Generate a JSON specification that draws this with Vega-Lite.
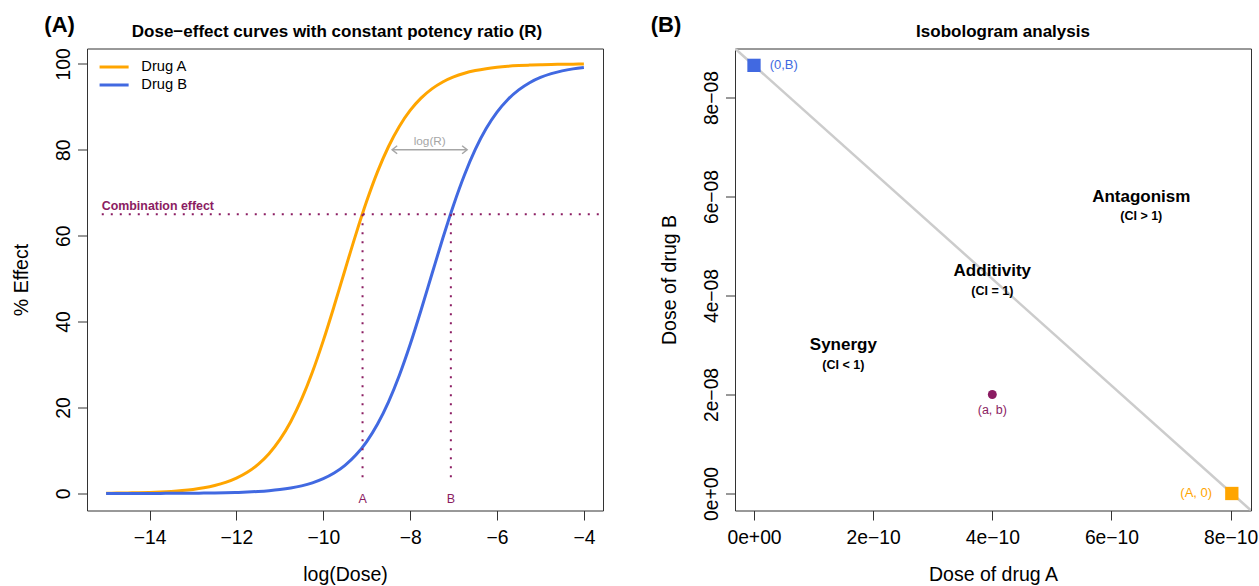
{
  "$schema": "https://vega.github.io/schema/vega-lite/v6.json",
  "background": "white",
  "padding": {"left": 10, "top": 13.5, "right": 0, "bottom": 0},
  "bounds": "flush",
  "spacing": 132,
  "resolve": {"scale": {"color": "independent"}, "legend": {"color": "independent"}},
  "config": {
    "font": "Liberation Sans",
    "view": {"stroke": "#333", "strokeWidth": 1},
    "axis": {"grid": false, "domain": false, "ticks": true, "tickColor": "#333", "tickSize": 9.5, "tickWidth": 1,
      "labelColor": "#000", "titleColor": "#000", "labelFontSize": 19.3, "titleFontSize": 19.5, "titleFontWeight": "normal",
      "labelFont": "Liberation Sans", "titleFont": "Liberation Sans", "labelFlush": false, "labelOverlap": false},
    "axisX": {"labelPadding": 8.5, "labelBaseline": "top", "labelAlign": "center", "titleBaseline": "alphabetic", "titleY": 70.3},
    "axisY": {"labelAngle": -90, "labelAlign": "center", "labelBaseline": "alphabetic", "labelPadding": 8,
      "titleAngle": -90, "titleBaseline": "alphabetic", "titleX": -60, "titleAlign": "center"},
    "title": {"fontSize": 17, "fontWeight": "bold", "font": "Liberation Sans", "color": "#000", "frame": "group", "anchor": "middle", "baseline": "alphabetic", "offset": -26.7}
  },
  "datasets": {
    "curves": [
      {"drug":"Drug A","logdose":-15,"effect":0.065},{"drug":"Drug A","logdose":-14.75,"effect":0.091},{"drug":"Drug A","logdose":-14.5,"effect":0.127},{"drug":"Drug A","logdose":-14.25,"effect":0.178},{"drug":"Drug A","logdose":-14,"effect":0.249},{"drug":"Drug A","logdose":-13.75,"effect":0.349},{"drug":"Drug A","logdose":-13.5,"effect":0.487},{"drug":"Drug A","logdose":-13.25,"effect":0.682},{"drug":"Drug A","logdose":-13,"effect":0.952},{"drug":"Drug A","logdose":-12.75,"effect":1.33},{"drug":"Drug A","logdose":-12.5,"effect":1.86},{"drug":"Drug A","logdose":-12.25,"effect":2.58},{"drug":"Drug A","logdose":-12,"effect":3.58},{"drug":"Drug A","logdose":-11.75,"effect":4.94},{"drug":"Drug A","logdose":-11.5,"effect":6.79},{"drug":"Drug A","logdose":-11.25,"effect":9.27},{"drug":"Drug A","logdose":-11,"effect":12.52},{"drug":"Drug A","logdose":-10.75,"effect":16.71},{"drug":"Drug A","logdose":-10.5,"effect":21.94},{"drug":"Drug A","logdose":-10.25,"effect":28.26},{"drug":"Drug A","logdose":-10,"effect":35.57},{"drug":"Drug A","logdose":-9.75,"effect":43.62},{"drug":"Drug A","logdose":-9.5,"effect":52.02},{"drug":"Drug A","logdose":-9.25,"effect":60.31},{"drug":"Drug A","logdose":-9,"effect":68.05},{"drug":"Drug A","logdose":-8.75,"effect":74.91},{"drug":"Drug A","logdose":-8.5,"effect":80.7},{"drug":"Drug A","logdose":-8.25,"effect":85.43},{"drug":"Drug A","logdose":-8,"effect":89.15},{"drug":"Drug A","logdose":-7.75,"effect":92.01},{"drug":"Drug A","logdose":-7.5,"effect":94.17},{"drug":"Drug A","logdose":-7.25,"effect":95.77},{"drug":"Drug A","logdose":-7,"effect":96.94},{"drug":"Drug A","logdose":-6.75,"effect":97.8},{"drug":"Drug A","logdose":-6.5,"effect":98.42},{"drug":"Drug A","logdose":-6.25,"effect":98.87},{"drug":"Drug A","logdose":-6,"effect":99.19},{"drug":"Drug A","logdose":-5.75,"effect":99.42},{"drug":"Drug A","logdose":-5.5,"effect":99.58},{"drug":"Drug A","logdose":-5.25,"effect":99.7},{"drug":"Drug A","logdose":-5,"effect":99.79},{"drug":"Drug A","logdose":-4.75,"effect":99.85},{"drug":"Drug A","logdose":-4.5,"effect":99.89},{"drug":"Drug A","logdose":-4.25,"effect":99.92},{"drug":"Drug A","logdose":-4,"effect":99.95},
      {"drug":"Drug B","logdose":-15,"effect":0.004},{"drug":"Drug B","logdose":-14.75,"effect":0.006},{"drug":"Drug B","logdose":-14.5,"effect":0.008},{"drug":"Drug B","logdose":-14.25,"effect":0.012},{"drug":"Drug B","logdose":-14,"effect":0.016},{"drug":"Drug B","logdose":-13.75,"effect":0.023},{"drug":"Drug B","logdose":-13.5,"effect":0.032},{"drug":"Drug B","logdose":-13.25,"effect":0.044},{"drug":"Drug B","logdose":-13,"effect":0.062},{"drug":"Drug B","logdose":-12.75,"effect":0.087},{"drug":"Drug B","logdose":-12.5,"effect":0.122},{"drug":"Drug B","logdose":-12.25,"effect":0.171},{"drug":"Drug B","logdose":-12,"effect":0.239},{"drug":"Drug B","logdose":-11.75,"effect":0.335},{"drug":"Drug B","logdose":-11.5,"effect":0.468},{"drug":"Drug B","logdose":-11.25,"effect":0.655},{"drug":"Drug B","logdose":-11,"effect":0.915},{"drug":"Drug B","logdose":-10.75,"effect":1.28},{"drug":"Drug B","logdose":-10.5,"effect":1.78},{"drug":"Drug B","logdose":-10.25,"effect":2.48},{"drug":"Drug B","logdose":-10,"effect":3.44},{"drug":"Drug B","logdose":-9.75,"effect":4.75},{"drug":"Drug B","logdose":-9.5,"effect":6.54},{"drug":"Drug B","logdose":-9.25,"effect":8.93},{"drug":"Drug B","logdose":-9,"effect":12.08},{"drug":"Drug B","logdose":-8.75,"effect":16.15},{"drug":"Drug B","logdose":-8.5,"effect":21.26},{"drug":"Drug B","logdose":-8.25,"effect":27.45},{"drug":"Drug B","logdose":-8,"effect":34.65},{"drug":"Drug B","logdose":-7.75,"effect":42.63},{"drug":"Drug B","logdose":-7.5,"effect":51.01},{"drug":"Drug B","logdose":-7.25,"effect":59.34},{"drug":"Drug B","logdose":-7,"effect":67.16},{"drug":"Drug B","logdose":-6.75,"effect":74.13},{"drug":"Drug B","logdose":-6.5,"effect":80.07},{"drug":"Drug B","logdose":-6.25,"effect":84.92},{"drug":"Drug B","logdose":-6,"effect":88.75},{"drug":"Drug B","logdose":-5.75,"effect":91.7},{"drug":"Drug B","logdose":-5.5,"effect":93.93},{"drug":"Drug B","logdose":-5.25,"effect":95.6},{"drug":"Drug B","logdose":-5,"effect":96.82},{"drug":"Drug B","logdose":-4.75,"effect":97.71},{"drug":"Drug B","logdose":-4.5,"effect":98.35},{"drug":"Drug B","logdose":-4.25,"effect":98.82},{"drug":"Drug B","logdose":-4,"effect":99.16}
    ],
    "combo": [{"logdose": -15.1, "logdose_end": -3.56, "effect": 65, "label": "Combination effect"}],
    "equi": [{"drug": "A", "logdose": -9.096, "effect": 65, "effect_end": 2.8}, {"drug": "B", "logdose": -7.063, "effect": 65, "effect_end": 2.8}],
    "arrow": [{"from": -8.414, "to": -6.689, "mid": -7.55, "effect": 80, "label": "log(R)"}],
    "panelA": [{"logdose": -16.07, "effect": 107.3, "label": "(A)"}],
    "isobole": [{"doseA": -3.189e-11, "doseB": 8.9906e-8}, {"doseA": 8.342e-10, "doseB": -3.437e-9}],
    "single": [{"drug": "Drug B", "doseA": 0, "doseB": 8.65e-8, "label": "(0,B)"}, {"drug": "Drug A", "doseA": 8.02e-10, "doseB": 0, "label": "(A, 0)"}],
    "combi": [{"doseA": 4e-10, "doseB": 2e-8, "label": "(a, b)"}],
    "regions": [
      {"doseA": 6.5e-10, "doseB": 6e-8, "doseB_ci": 5.6e-8, "name": "Antagonism", "ci": "(CI > 1)"},
      {"doseA": 4e-10, "doseB": 4.5e-8, "doseB_ci": 4.1e-8, "name": "Additivity", "ci": "(CI = 1)"},
      {"doseA": 1.5e-10, "doseB": 3e-8, "doseB_ci": 2.6e-8, "name": "Synergy", "ci": "(CI < 1)"}
    ],
    "panelB": [{"doseA": -1.477e-10, "doseB": 9.315e-8, "label": "(B)"}]
  },
  "hconcat": [
    {
      "width": 516,
      "height": 462,
      "title": {"text": "Dose−effect curves with constant potency ratio (R)", "dx": -8},
      "layer": [
        {
          "data": {"name": "curves"},
          "mark": {"type": "line", "strokeWidth": 3, "interpolate": "monotone", "clip": true},
          "encoding": {
            "x": {"field": "logdose", "type": "quantitative", "scale": {"domain": [-15.44, -3.56], "nice": false, "zero": false},
              "axis": {"values": [-14, -12, -10, -8, -6, -4], "title": "log(Dose)", "labelExpr": "replace(format(datum.value, 'd'), '-', '−')"}},
            "y": {"field": "effect", "type": "quantitative", "scale": {"domain": [-3.96, 103.56], "nice": false, "zero": false},
              "axis": {"values": [0, 20, 40, 60, 80, 100], "title": "% Effect"}},
            "color": {"field": "drug", "type": "nominal", "scale": {"domain": ["Drug A", "Drug B"], "range": ["#FFA500", "#4169E1"]},
              "legend": {"title": null, "orient": "none", "legendX": 19.6, "legendY": 11, "symbolType": "M-2.5,0H2.5", "symbolSize": 135,
                "symbolStrokeWidth": 3, "symbolFillColor": "transparent", "labelFontSize": 14.7, "labelOffset": 19.7, "rowPadding": 2, "padding": 0,
                "labelFont": "Liberation Sans", "labelColor": "#000"}}
          }
        },
        {
          "data": {"name": "combo"},
          "mark": {"type": "rule", "strokeDash": [2, 7], "strokeWidth": 2, "color": "#8B1C62"},
          "encoding": {
            "x": {"field": "logdose", "type": "quantitative"},
            "x2": {"field": "logdose_end"},
            "y": {"field": "effect", "type": "quantitative"}
          }
        },
        {
          "data": {"name": "combo"},
          "mark": {"type": "text", "align": "left", "baseline": "alphabetic", "dy": -4, "fontSize": 12.4, "fontWeight": "bold", "color": "#8B1C62"},
          "encoding": {
            "x": {"field": "logdose", "type": "quantitative"},
            "y": {"field": "effect", "type": "quantitative"},
            "text": {"field": "label"}
          }
        },
        {
          "data": {"name": "equi"},
          "mark": {"type": "rule", "strokeDash": [2, 7], "strokeWidth": 2, "color": "#8B1C62"},
          "encoding": {
            "x": {"field": "logdose", "type": "quantitative"},
            "y": {"field": "effect", "type": "quantitative"},
            "y2": {"field": "effect_end"}
          }
        },
        {
          "data": {"name": "equi"},
          "mark": {"type": "text", "align": "center", "baseline": "middle", "dy": 5.8, "fontSize": 12.5, "color": "#8B1C62"},
          "encoding": {
            "x": {"field": "logdose", "type": "quantitative"},
            "y": {"datum": 0, "type": "quantitative"},
            "text": {"field": "drug"}
          }
        },
        {
          "data": {"name": "arrow"},
          "mark": {"type": "rule", "strokeWidth": 1.5, "color": "#a6a6a6"},
          "encoding": {
            "x": {"field": "from", "type": "quantitative"},
            "x2": {"field": "to"},
            "y": {"field": "effect", "type": "quantitative"}
          }
        },
        {
          "data": {"name": "arrow"},
          "mark": {"type": "point", "shape": "M1,-0.8L0,0L1,0.8", "filled": false, "size": 100, "strokeWidth": 1.5, "color": "#a6a6a6", "opacity": 1},
          "encoding": {
            "x": {"field": "from", "type": "quantitative"},
            "y": {"field": "effect", "type": "quantitative"}
          }
        },
        {
          "data": {"name": "arrow"},
          "mark": {"type": "point", "shape": "M-1,-0.8L0,0L-1,0.8", "filled": false, "size": 100, "strokeWidth": 1.5, "color": "#a6a6a6", "opacity": 1},
          "encoding": {
            "x": {"field": "to", "type": "quantitative"},
            "y": {"field": "effect", "type": "quantitative"}
          }
        },
        {
          "data": {"name": "arrow"},
          "mark": {"type": "text", "align": "center", "baseline": "alphabetic", "dy": -5, "fontSize": 11.8, "color": "#a6a6a6"},
          "encoding": {
            "x": {"field": "mid", "type": "quantitative"},
            "y": {"field": "effect", "type": "quantitative"},
            "text": {"field": "label"}
          }
        },
        {
          "data": {"name": "panelA"},
          "mark": {"type": "text", "align": "center", "baseline": "alphabetic", "fontSize": 22, "fontWeight": "bold", "color": "#000"},
          "encoding": {
            "x": {"field": "logdose", "type": "quantitative"},
            "y": {"field": "effect", "type": "quantitative"},
            "text": {"field": "label"}
          }
        }
      ]
    },
    {
      "width": 516,
      "height": 462,
      "title": {"text": "Isobologram analysis", "dx": 10},
      "layer": [
        {
          "data": {"name": "isobole"},
          "mark": {"type": "line", "strokeWidth": 2.5, "color": "#cccccc", "clip": true},
          "encoding": {
            "x": {"field": "doseA", "type": "quantitative", "scale": {"domain": [-3.189e-11, 8.342e-10], "nice": false, "zero": false},
              "axis": {"values": [0, 2e-10, 4e-10, 6e-10, 8e-10], "title": "Dose of drug A",
                "labelExpr": "['0e+00','2e−10','4e−10','6e−10','8e−10'][round(datum.value/2e-10)]"}},
            "y": {"field": "doseB", "type": "quantitative", "scale": {"domain": [-3.437e-9, 8.9906e-8], "nice": false, "zero": false},
              "axis": {"values": [0, 2e-8, 4e-8, 6e-8, 8e-8], "title": "Dose of drug B",
                "labelExpr": "['0e+00','2e−08','4e−08','6e−08','8e−08'][round(datum.value/2e-8)]"}}
          }
        },
        {
          "data": {"name": "single"},
          "mark": {"type": "point", "shape": "square", "filled": true, "size": 177, "opacity": 1},
          "encoding": {
            "x": {"field": "doseA", "type": "quantitative"},
            "y": {"field": "doseB", "type": "quantitative"},
            "color": {"field": "drug", "type": "nominal", "scale": {"domain": ["Drug A", "Drug B"], "range": ["#FFA500", "#4169E1"]}, "legend": null}
          }
        },
        {
          "data": {"name": "single"},
          "transform": [{"filter": "datum.drug == 'Drug B'"}],
          "mark": {"type": "text", "align": "left", "baseline": "middle", "dx": 15.7, "fontSize": 13, "color": "#4169E1"},
          "encoding": {
            "x": {"field": "doseA", "type": "quantitative"},
            "y": {"field": "doseB", "type": "quantitative"},
            "text": {"field": "label"}
          }
        },
        {
          "data": {"name": "single"},
          "transform": [{"filter": "datum.drug == 'Drug A'"}],
          "mark": {"type": "text", "align": "right", "baseline": "middle", "dx": -19.7, "fontSize": 13, "color": "#FFA500"},
          "encoding": {
            "x": {"field": "doseA", "type": "quantitative"},
            "y": {"field": "doseB", "type": "quantitative"},
            "text": {"field": "label"}
          }
        },
        {
          "data": {"name": "combi"},
          "mark": {"type": "point", "shape": "circle", "filled": true, "size": 80, "color": "#8B1C62", "opacity": 1},
          "encoding": {
            "x": {"field": "doseA", "type": "quantitative"},
            "y": {"field": "doseB", "type": "quantitative"}
          }
        },
        {
          "data": {"name": "combi"},
          "mark": {"type": "text", "align": "center", "baseline": "middle", "dy": 16, "fontSize": 12.5, "color": "#8B1C62"},
          "encoding": {
            "x": {"field": "doseA", "type": "quantitative"},
            "y": {"field": "doseB", "type": "quantitative"},
            "text": {"field": "label"}
          }
        },
        {
          "data": {"name": "regions"},
          "mark": {"type": "text", "align": "center", "baseline": "middle", "fontSize": 17, "fontWeight": "bold", "color": "#000"},
          "encoding": {
            "x": {"field": "doseA", "type": "quantitative"},
            "y": {"field": "doseB", "type": "quantitative"},
            "text": {"field": "name"}
          }
        },
        {
          "data": {"name": "regions"},
          "mark": {"type": "text", "align": "center", "baseline": "middle", "fontSize": 12.5, "fontWeight": "bold", "color": "#000"},
          "encoding": {
            "x": {"field": "doseA", "type": "quantitative"},
            "y": {"field": "doseB_ci", "type": "quantitative"},
            "text": {"field": "ci"}
          }
        },
        {
          "data": {"name": "panelB"},
          "mark": {"type": "text", "align": "center", "baseline": "alphabetic", "fontSize": 22, "fontWeight": "bold", "color": "#000"},
          "encoding": {
            "x": {"field": "doseA", "type": "quantitative"},
            "y": {"field": "doseB", "type": "quantitative"},
            "text": {"field": "label"}
          }
        }
      ]
    }
  ]
}
